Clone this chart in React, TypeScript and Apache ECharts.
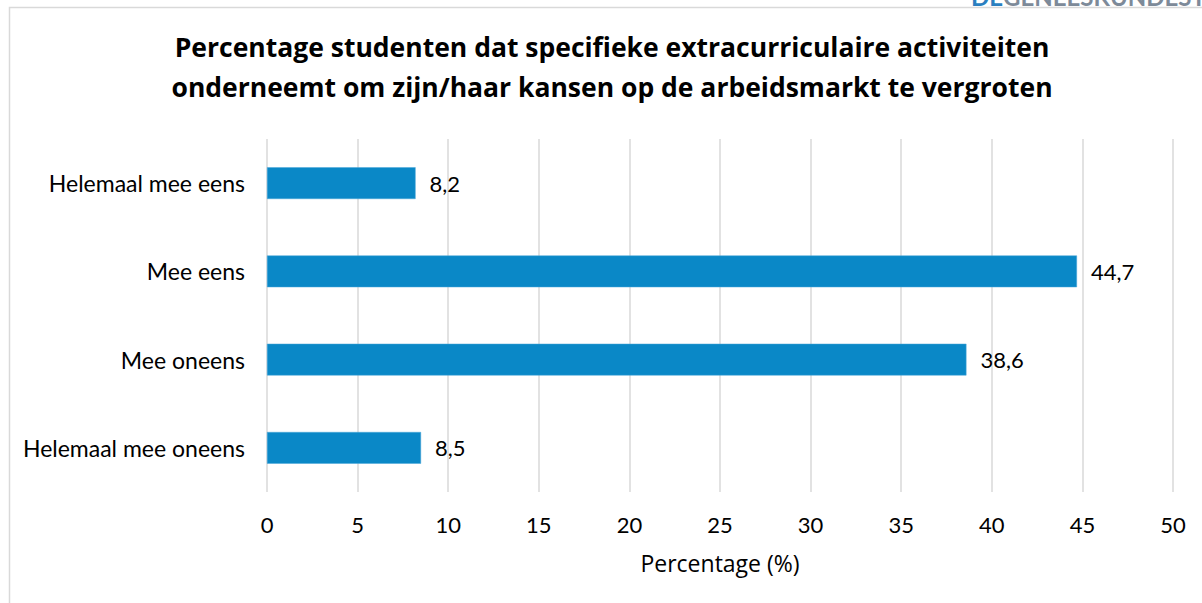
import React, { useEffect, useRef } from "react";
import * as echarts from "echarts";

const categories = ["Helemaal mee eens", "Mee eens", "Mee oneens", "Helemaal mee oneens"];
const values = [8.2, 44.7, 38.6, 8.5];
const titleLines = [
  "Percentage studenten dat specifieke extracurriculaire activiteiten",
  "onderneemt om zijn/haar kansen op de arbeidsmarkt te vergroten",
];
const xAxisName = "Percentage (%)";

export default function App() {
  const ref = useRef<HTMLDivElement>(null);
  useEffect(() => {
    if (!ref.current) return;
    const chart = echarts.init(ref.current, undefined, { renderer: "svg" });
    const font = "Lato, Open Sans, sans-serif";
    chart.setOption({
      animation: false,
      backgroundColor: "#ffffff",
      textStyle: { fontFamily: font },
      graphic: [
        {
          type: "text",
          x: 971,
          y: -16,
          style: {
            text: "{a|DE}{b|GENEESKUNDESTUDENT}",
            rich: {
              a: { font: "bold 24px Lato, sans-serif", fill: "#2a7fc0" },
              b: { font: "bold 24px Lato, sans-serif", fill: "#7d8a99" },
            },
            verticalAlign: "top",
          },
        },
        {
          type: "rect",
          shape: { x: 9.5, y: 7.5, width: 1300, height: 700 },
          style: { fill: "#ffffff", stroke: "#d9d9d9", lineWidth: 1.5 },
          z: -10,
        },
        {
          type: "text",
          x: 612,
          y: 47,
          style: {
            text: titleLines[0],
            font: "bold 26.5px Open Sans, sans-serif",
            fill: "#000000",
            align: "center",
            verticalAlign: "middle",
          },
        },
        {
          type: "text",
          x: 612,
          y: 87,
          style: {
            text: titleLines[1],
            font: "bold 26.5px Open Sans, sans-serif",
            fill: "#000000",
            align: "center",
            verticalAlign: "middle",
          },
        },
      ],
      grid: { left: 267, right: 29, top: 139, bottom: 111, containLabel: false },
      xAxis: {
        type: "value",
        min: 0,
        max: 50,
        interval: 5,
        name: xAxisName,
        nameLocation: "middle",
        nameGap: 59,
        nameTextStyle: { fontSize: 23, color: "#000000", fontFamily: "Open Sans, sans-serif" },
        axisLabel: { fontSize: 22, color: "#000000", margin: 21, fontFamily: font },
        axisLine: { show: false },
        axisTick: { show: false },
        splitLine: { show: true, lineStyle: { color: "#d9d9d9", width: 1.5 } },
      },
      yAxis: {
        type: "category",
        data: categories,
        inverse: true,
        axisLabel: { fontSize: 23, color: "#000000", margin: 22, fontFamily: font },
        axisLine: { show: false },
        axisTick: { show: false },
        splitLine: { show: false },
      },
      series: [
        {
          type: "bar",
          data: values,
          barWidth: "36%",
          itemStyle: { color: "#0a88c7", borderColor: "#4aa7d8", borderWidth: 0.5 },
          label: {
            show: true,
            position: "right",
            distance: 14,
            fontSize: 22,
            color: "#000000",
            fontFamily: font,
            formatter: (p: any) => String(p.value).replace(".", ","),
          },
        },
      ],
    });
    return () => chart.dispose();
  }, []);
  return (
    <div
      ref={ref}
      style={{ position: "fixed", left: 0, top: 0, width: 1202, height: 603 }}
    />
  );
}
